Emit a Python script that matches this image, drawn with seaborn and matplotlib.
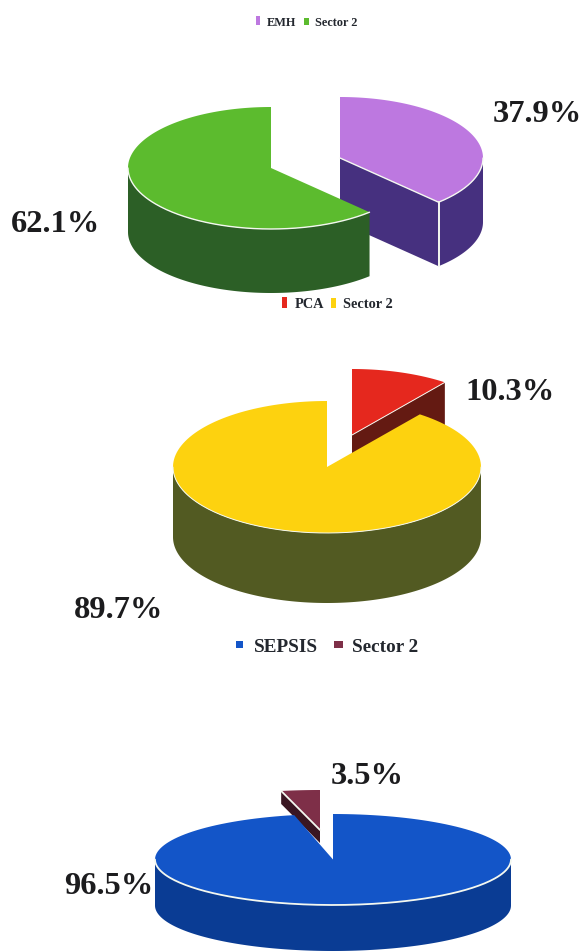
import numpy as np
import seaborn as sns
import matplotlib
import matplotlib.pyplot as plt
from matplotlib.patches import Rectangle

matplotlib.use('Agg')

# values
emh_labels = ['EMH', 'Sector 2']
emh_shares = [37.9, 62.1]
pca_labels = ['PCA', 'Sector 2']
pca_shares = [10.3, 89.7]
sepsis_labels = ['SEPSIS', 'Sector 2']
sepsis_shares = [96.5, 3.5]

emh_top = ['#BD78E0', '#5CBB2E']
emh_side = ['#46307F', '#2C5F26']
pca_top = ['#E5281E', '#FDD20F']
pca_side = ['#641A12', '#525A22']
sepsis_top = ['#1355C8', '#7E2F48']
sepsis_side = ['#0A3C94', '#3A1622']

RIM = '#F4F8F0'


def arc(cx, cy, rx, ry, start, end):
    # angles run clockwise from 12 o'clock, y axis points down
    phi = np.radians(np.linspace(start, end, 160))
    return cx + rx * np.sin(phi), cy - ry * np.cos(phi)


def draw_slice(ax, centre, rx, ry, depth, start, end, top, side, rim_lw):
    cx, cy = centre
    # outer wall, only the part in the front half shows
    lo, hi = max(start, 90), min(end, 270)
    if lo < hi:
        x, y = arc(cx, cy, rx, ry, lo, hi)
        ax.fill(np.r_[x, x[::-1]], np.r_[y, y[::-1] + depth], color=side, lw=0)
    # cut face towards the viewer
    for angle, faces in ((start, np.sin(np.radians(start)) < -1e-6),
                         (end, np.sin(np.radians(end)) > 1e-6)):
        if faces:
            ex, ey = arc(cx, cy, rx, ry, angle, angle)
            ax.fill([cx, ex[0], ex[0], cx], [cy, ey[0], ey[0] + depth, cy + depth],
                    color=side, lw=0)
    x, y = arc(cx, cy, rx, ry, start, end)
    ax.fill(np.r_[cx, x], np.r_[cy, y], color=top, lw=0)
    for angle, faces in ((start, np.sin(np.radians(start)) < -1e-6),
                         (end, np.sin(np.radians(end)) > 1e-6)):
        if faces:
            ex, ey = arc(cx, cy, rx, ry, angle, angle)
            ax.plot([cx, ex[0]], [cy, ey[0]], color=RIM, lw=rim_lw)
            if 90 < angle < 270:
                ax.plot([ex[0], ex[0]], [ey[0], ey[0] + depth], color=RIM, lw=rim_lw + 0.4)
    if lo < hi:
        x, y = arc(cx, cy, rx, ry, lo, hi)
        ax.plot(x, y, color=RIM, lw=rim_lw)


def draw_pie(ax, shares, centres, rx, rys, depths, tops, sides, rim_lw):
    edges = np.r_[0, np.cumsum(shares)] / np.sum(shares) * 360
    # slices lying further back go first
    for i in sorted(range(len(shares)), key=lambda k: centres[k][1]):
        draw_slice(ax, centres[i], rx, rys[i], depths[i], edges[i], edges[i + 1],
                   tops[i], sides[i], rim_lw)


def draw_legend(ax, y, entries, size):
    for label, colour, box, text_x in entries:
        ax.add_patch(Rectangle((box[0], box[1]), box[2], box[3], color=colour, lw=0))
        ax.text(text_x, y, label, fontsize=size, fontweight='bold', color='#23272E',
                va='center', ha='left')


sns.set_theme(style='white')
plt.rcParams['font.family'] = ['Liberation Serif', 'DejaVu Serif']

fig, ax = plt.subplots(figsize=(5.81, 9.51), dpi=100)
fig.subplots_adjust(0, 0, 1, 1)
ax.set_xlim(0, 581)
ax.set_ylim(951, 0)
sns.despine(ax=ax, left=True, bottom=True)
ax.set_xticks([])
ax.set_yticks([])

draw_pie(ax, emh_shares, [(340, 158), (271, 168)], 143, [61, 61], [64, 64],
         emh_top, emh_side, 1.0)
draw_pie(ax, pca_shares, [(352, 435), (327, 467)], 154, [66, 66], [70, 70],
         pca_top, pca_side, 0.7)
draw_pie(ax, sepsis_shares, [(333, 859.5), (320, 830)], 178, [45.5, 40], [46, 13],
         sepsis_top, sepsis_side, 1.3)

draw_legend(ax, 23, [(emh_labels[0], emh_top[0], (256, 16, 4, 9), 267),
                     (emh_labels[1], emh_top[1], (304, 18, 5, 7), 315)], 8.8)
draw_legend(ax, 305, [(pca_labels[0], pca_top[0], (282, 297, 5, 11), 295),
                      (pca_labels[1], pca_top[1], (331, 298, 5, 10), 343)], 10.4)
draw_legend(ax, 647, [(sepsis_labels[0], sepsis_top[0], (236, 641, 7, 7), 254),
                      (sepsis_labels[1], sepsis_top[1], (334, 641, 9, 7), 352)], 13.8)

pct_labels = [(emh_shares[0], 537, 115), (emh_shares[1], 56, 225),
              (pca_shares[0], 510, 392), (pca_shares[1], 119, 610),
              (sepsis_shares[1], 367, 777), (sepsis_shares[0], 109, 886)]
for value, x, y in pct_labels:
    ax.text(x, y, f'{value:.1f}%', fontsize=23.4, fontweight='bold', color='#1C1C1E',
            ha='center', va='center')

fig.savefig('out.png', dpi=100)
